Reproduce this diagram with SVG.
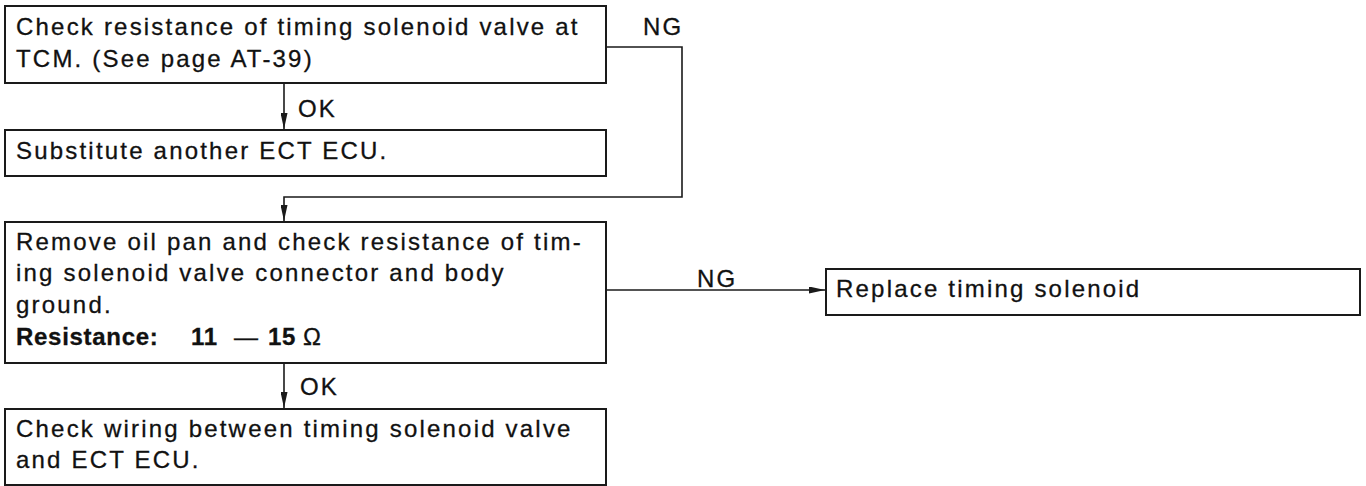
<svg xmlns="http://www.w3.org/2000/svg" width="1366" height="486" viewBox="0 0 1366 486">
<style>
.box{fill:#fff;stroke:#1a1a1a;stroke-width:2}
.t{font-family:"Liberation Sans",Arial,sans-serif;font-size:24px;fill:#111;stroke:#111;stroke-width:0.3;letter-spacing:2.2px}
.b{font-weight:bold;letter-spacing:0.7px}
.c{fill:none;stroke:#1a1a1a;stroke-width:1.6}
</style>
<defs>
<marker id="ah" viewBox="0 0 16 7" refX="16" refY="3.5" markerWidth="16" markerHeight="7" markerUnits="userSpaceOnUse" orient="auto">
<path d="M0,0 L16,3.5 L0,7 Z" fill="#1a1a1a"/>
</marker>
</defs>
<rect width="1366" height="486" fill="#fff"/>
<g id="connectors">
<path class="c" d="M284,83 V129" marker-end="url(#ah)"/>
<path class="c" d="M606,47 H682 V197 H284 V221" marker-end="url(#ah)"/>
<path class="c" d="M606,290 H825" marker-end="url(#ah)"/>
<path class="c" d="M284,363 V408" marker-end="url(#ah)"/>
<text class="t" x="298" y="117">OK</text>
<text class="t" x="643" y="35">NG</text>
<text class="t" x="697" y="287">NG</text>
<text class="t" x="300" y="395">OK</text>
</g>
<g id="n1">
<rect class="box" x="5" y="6" width="601" height="77"/>
<text class="t" x="16" y="35">Check resistance of timing solenoid valve at</text>
<text class="t" x="16" y="67">TCM. (See page AT-39)</text>
</g>
<g id="n2">
<rect class="box" x="5" y="130" width="601" height="46"/>
<text class="t" x="16" y="159">Substitute another ECT ECU.</text>
</g>
<g id="n3">
<rect class="box" x="5" y="222" width="601" height="141"/>
<text class="t" x="16" y="250">Remove oil pan and check resistance of tim-</text>
<text class="t" x="16" y="281">ing solenoid valve connector and body</text>
<text class="t" x="16" y="313">ground.</text>
<text class="t b" x="16" y="345">Resistance:</text>
<text class="t b" x="191" y="345">11</text>
<text class="t" x="234" y="345" letter-spacing="0">—</text>
<text class="t b" x="268" y="345">15</text>
<text class="t" x="303" y="345" letter-spacing="0">Ω</text>
</g>
<g id="n4">
<rect class="box" x="5" y="409" width="601" height="76"/>
<text class="t" x="16" y="437">Check wiring between timing solenoid valve</text>
<text class="t" x="16" y="468">and ECT ECU.</text>
</g>
<g id="n5">
<rect class="box" x="826" y="269" width="534" height="46"/>
<text class="t" x="836" y="297">Replace timing solenoid</text>
</g>
</svg>
